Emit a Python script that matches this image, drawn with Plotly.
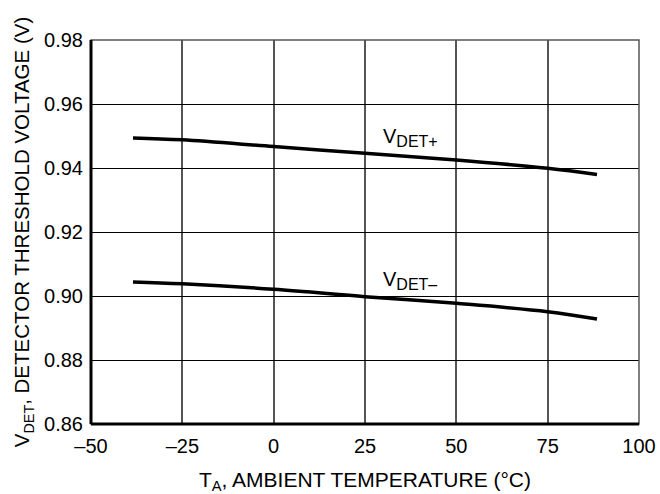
import plotly.graph_objects as go

# Ambient temperature (°C) and detector threshold voltages (V)
temp = [-38.5, -25, 0, 25, 50, 75, 88.5]
vdet_plus = [0.9494, 0.9488, 0.9467, 0.9446, 0.9425, 0.9399, 0.9380]
vdet_minus = [0.9044, 0.9038, 0.9021, 0.8998, 0.8977, 0.8951, 0.8928]

x_ticks = [-50, -25, 0, 25, 50, 75, 100]
x_labels = ["–50", "–25", "0", "25", "50", "75", "100"]
y_ticks = [0.86, 0.88, 0.90, 0.92, 0.94, 0.96, 0.98]
y_labels = ["0.86", "0.88", "0.90", "0.92", "0.94", "0.96", "0.98"]

FONT = "Liberation Sans, Arial, sans-serif"
SUB = '<sub><span style="font-size:16px">{}</span></sub>'

fig = go.Figure()
for v in (vdet_plus, vdet_minus):
    fig.add_trace(go.Scatter(x=temp, y=v, mode="lines",
                             line=dict(color="black", width=3.5, shape="spline"),
                             showlegend=False, hoverinfo="skip"))

# Curve labels
fig.add_annotation(x=29.5, y=0.9494, text="V" + SUB.format("DET+"), showarrow=False,
                   xanchor="left", yanchor="middle", font=dict(size=20, color="black"))
fig.add_annotation(x=29.5, y=0.9047, text="V" + SUB.format("DET–"), showarrow=False,
                   xanchor="left", yanchor="middle", font=dict(size=20, color="black"))

# Frame: heavy left/bottom axes, light top/right edges
fig.add_shape(type="rect", xref="paper", yref="paper", x0=0, x1=1, y0=0, y1=1,
              line=dict(color="#555555", width=1.5), layer="above")
fig.add_shape(type="line", xref="paper", yref="paper", x0=0, x1=0, y0=0, y1=1,
              line=dict(color="black", width=3), layer="above")
fig.add_shape(type="line", xref="paper", yref="paper", x0=0, x1=1, y0=0, y1=0,
              line=dict(color="black", width=3), layer="above")

fig.update_xaxes(range=[-50, 100], tickvals=x_ticks, ticktext=x_labels,
                 showgrid=True, gridcolor="#555555", gridwidth=1.5,
                 zeroline=False, showline=False, ticks="", ticklabelstandoff=8,
                 automargin=False,
                 tickfont=dict(size=20, color="black", family=FONT),
                 title=dict(text="T<sub>A</sub>, AMBIENT TEMPERATURE (°C)",
                            font=dict(size=21, color="black", family=FONT), standoff=20))
fig.update_yaxes(range=[0.86, 0.98], tickvals=y_ticks, ticktext=y_labels,
                 showgrid=True, gridcolor="black", gridwidth=1,
                 zeroline=False, showline=False, ticks="", ticklabelstandoff=7,
                 automargin=False,
                 tickfont=dict(size=20, color="black", family=FONT),
                 title=dict(text="V<sub>DET</sub>, DETECTOR THRESHOLD VOLTAGE (V)",
                            font=dict(size=20.5, color="black", family=FONT), standoff=8))

fig.update_layout(width=660, height=494,
                  margin=dict(l=91, r=21, t=40, b=70, autoexpand=False),
                  paper_bgcolor="white", plot_bgcolor="white",
                  font=dict(family=FONT, color="black"))

fig.write_html("out.html")
